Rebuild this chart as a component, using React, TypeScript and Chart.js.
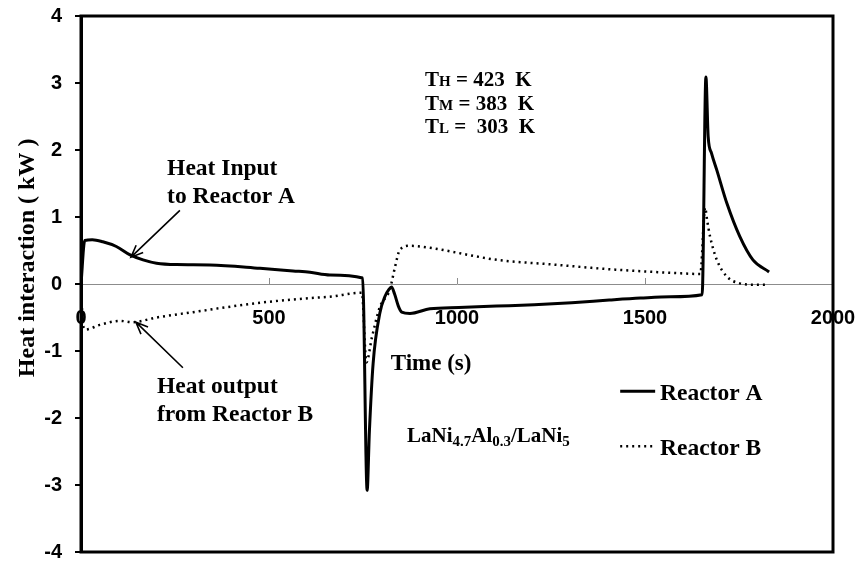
import { useEffect, useRef } from "react";
import { Chart, registerables } from "chart.js";

Chart.register(...registerables);

// Reactor A heat interaction (kW) against time (s)
const timeA = [0, 10, 30, 58, 94, 132, 165, 201, 254, 343, 476, 564, 609, 662, 749, 761, 767, 777, 795, 808, 819, 826, 834, 844, 853, 875, 928, 1005, 1105, 1205, 1305, 1405, 1488, 1568, 1652, 1662, 1668, 1677, 1691, 1718, 1752, 1787, 1830];
const heatA = [0, 0.65, 0.66, 0.63, 0.56, 0.43, 0.36, 0.31, 0.29, 0.285, 0.235, 0.195, 0.175, 0.135, 0.09, -3.08, -2.2, -1.18, -0.43, -0.19, -0.08, -0.045, -0.15, -0.33, -0.42, -0.44, -0.37, -0.35, -0.33, -0.31, -0.28, -0.24, -0.21, -0.19, -0.16, 3.09, 2.2, 1.95, 1.7, 1.2, 0.71, 0.36, 0.18];

// Reactor B heat interaction (kW) against time (s)
const timeB = [0, 5, 12, 50, 104, 136, 201, 298, 382, 476, 609, 662, 747, 759, 774, 795, 821, 835, 848, 875, 928, 1053, 1106, 1257, 1407, 1558, 1647, 1660, 1665, 1673, 1691, 1718, 1752, 1789, 1827];
const heatB = [0, -0.6, -0.68, -0.61, -0.55, -0.57, -0.5, -0.42, -0.35, -0.28, -0.21, -0.19, -0.13, -1.17, -0.79, -0.34, -0.09, 0.25, 0.51, 0.57, 0.54, 0.41, 0.36, 0.29, 0.22, 0.17, 0.15, 1.14, 0.96, 0.71, 0.36, 0.11, 0.01, -0.01, -0.01];

const seriesNames = ["Reactor A", "Reactor B"];
const xTickStep = 500;
const yTickStep = 1;

const serif = "'Liberation Serif', 'Times New Roman', serif";
const sans = "'Liberation Sans', Arial, sans-serif";

type Run = { t: string; size: number; dy?: number };

function drawRuns(ctx: CanvasRenderingContext2D, x: number, y: number, runs: Run[]) {
  let cx = x;
  for (const r of runs) {
    ctx.font = `bold ${r.size}px ${serif}`;
    ctx.fillText(r.t, cx, y + (r.dy || 0));
    cx += ctx.measureText(r.t).width;
  }
}

function drawArrow(ctx: CanvasRenderingContext2D, x1: number, y1: number, x2: number, y2: number) {
  const ang = Math.atan2(y2 - y1, x2 - x1);
  const head = 13;
  const spread = 0.4;
  ctx.beginPath();
  ctx.moveTo(x1, y1);
  ctx.lineTo(x2, y2);
  ctx.moveTo(x2 - head * Math.cos(ang - spread), y2 - head * Math.sin(ang - spread));
  ctx.lineTo(x2, y2);
  ctx.lineTo(x2 - head * Math.cos(ang + spread), y2 - head * Math.sin(ang + spread));
  ctx.stroke();
}

// scales keep their labels inside the layout padding given below
const noScalePadding = (scale: any) => {
  scale.paddingTop = 0;
  scale.paddingBottom = 0;
  scale.paddingLeft = 0;
  scale.paddingRight = 0;
};

const decorPlugin = {
  id: "decor",
  afterDraw(chart: any) {
    const ctx: CanvasRenderingContext2D = chart.ctx;
    const { left, top, right, bottom } = chart.chartArea;
    const xs = chart.scales.x;
    const ys = chart.scales.y;
    const px = (v: number) => xs.getPixelForValue(v);
    const py = (v: number) => ys.getPixelForValue(v);

    ctx.save();
    // small upward tick marks on the zero line
    ctx.strokeStyle = "#8c8c8c";
    ctx.lineWidth = 1;
    const y0 = py(0);
    for (const t of xs.ticks) {
      const x = Math.round(px(t.value)) + 0.5;
      ctx.beginPath();
      ctx.moveTo(x, y0);
      ctx.lineTo(x, y0 - 6);
      ctx.stroke();
    }

    // plot frame
    ctx.strokeStyle = "#000";
    ctx.lineWidth = 3;
    ctx.strokeRect(left, top, right - left, bottom - top);

    ctx.fillStyle = "#000";
    ctx.textBaseline = "alphabetic";

    // axis titles
    ctx.save();
    ctx.translate(34, py(0.39));
    ctx.rotate(-Math.PI / 2);
    ctx.textAlign = "center";
    ctx.font = `bold 24px ${serif}`;
    ctx.fillText("Heat interaction ( kW )", 0, 0);
    ctx.restore();

    ctx.textAlign = "center";
    ctx.font = `bold 23px ${serif}`;
    ctx.fillText("Time (s)", px(931), py(-1.28));

    ctx.textAlign = "left";
    // operating temperatures
    drawRuns(ctx, px(915), py(2.96), [{ t: "T", size: 21 }, { t: "H", size: 15 }, { t: " = 423  K", size: 21 }]);
    drawRuns(ctx, px(915), py(2.6), [{ t: "T", size: 21 }, { t: "M", size: 15 }, { t: " = 383  K", size: 21 }]);
    drawRuns(ctx, px(915), py(2.26), [{ t: "T", size: 21 }, { t: "L", size: 15 }, { t: " =  303  K", size: 21 }]);

    // alloy pair
    drawRuns(ctx, px(867), py(-2.36), [
      { t: "LaNi", size: 21 },
      { t: "4.7", size: 15, dy: 4 },
      { t: "Al", size: 21 },
      { t: "0.3", size: 15, dy: 4 },
      { t: "/LaNi", size: 21 },
      { t: "5", size: 15, dy: 4 },
    ]);

    // callouts
    ctx.font = `bold 23.5px ${serif}`;
    ctx.fillText("Heat Input", px(229), py(1.63));
    ctx.fillText("to Reactor A", px(229), py(1.21));
    ctx.fillText("Heat output", px(202), py(-1.63));
    ctx.fillText("from Reactor B", px(202), py(-2.04));

    ctx.strokeStyle = "#000";
    ctx.lineWidth = 1.6;
    drawArrow(ctx, px(263), py(1.1), px(133), py(0.4));
    drawArrow(ctx, px(271), py(-1.25), px(146), py(-0.57));

    // legend
    const legendY = [-1.6, -2.42];
    chart.data.datasets.forEach((ds: any, i: number) => {
      const ly = py(legendY[i]);
      ctx.save();
      ctx.strokeStyle = ds.borderColor;
      ctx.lineWidth = ds.borderWidth;
      ctx.setLineDash(ds.borderDash || []);
      ctx.beginPath();
      ctx.moveTo(px(1434), ly);
      ctx.lineTo(px(1527), ly);
      ctx.stroke();
      ctx.restore();
      ctx.font = `bold 23.5px ${serif}`;
      ctx.fillText(ds.label, px(1540), ly + 9);
    });

    ctx.restore();
  },
};

export default function App() {
  const canvasRef = useRef<HTMLCanvasElement | null>(null);

  useEffect(() => {
    if (!canvasRef.current) return;
    const tickFont = { family: sans, weight: "bold", size: 20 };
    const chart = new Chart(canvasRef.current, {
      type: "line",
      data: {
        datasets: [
          {
            label: seriesNames[0],
            data: timeA.map((t, i) => ({ x: t, y: heatA[i] })),
            borderColor: "#000",
            borderWidth: 3,
            pointRadius: 0,
            fill: false,
            cubicInterpolationMode: "monotone",
          },
          {
            label: seriesNames[1],
            data: timeB.map((t, i) => ({ x: t, y: heatB[i] })),
            borderColor: "#000",
            borderWidth: 2.5,
            borderDash: [2, 4],
            pointRadius: 0,
            fill: false,
            cubicInterpolationMode: "monotone",
          },
        ],
      },
      options: {
        responsive: false,
        animation: false,
        layout: { padding: { left: 0, top: 16, right: 25, bottom: 11 } },
        plugins: { legend: { display: false }, tooltip: { enabled: false } },
        scales: {
          x: {
            type: "linear",
            position: { y: 0 },
            min: 0,
            max: 2000,
            ticks: {
              stepSize: xTickStep,
              color: "#000",
              font: tickFont,
              padding: 22,
              maxRotation: 0,
              autoSkip: false,
              callback: (v: any) => String(v),
            },
            grid: { drawOnChartArea: false, drawTicks: false },
            border: { color: "#8c8c8c", width: 1 },
            afterFit: noScalePadding,
          },
          y: {
            min: -4,
            max: 4,
            ticks: {
              stepSize: yTickStep,
              color: "#000",
              font: tickFont,
              padding: 13,
              callback: (v: any) => String(v),
            },
            grid: { drawOnChartArea: false, drawTicks: true, tickLength: 6, color: "#000", lineWidth: 2 },
            border: { display: true, color: "#000", width: 3 },
            afterFit: (scale: any) => {
              scale.width = 81;
              noScalePadding(scale);
            },
          },
        },
      } as any,
      plugins: [decorPlugin],
    });
    return () => chart.destroy();
  }, []);

  return (
    <div style={{ position: "absolute", left: 0, top: 0, width: 858, height: 563, background: "#fff" }}>
      <canvas ref={canvasRef} width={858} height={563} style={{ display: "block" }} />
    </div>
  );
}
